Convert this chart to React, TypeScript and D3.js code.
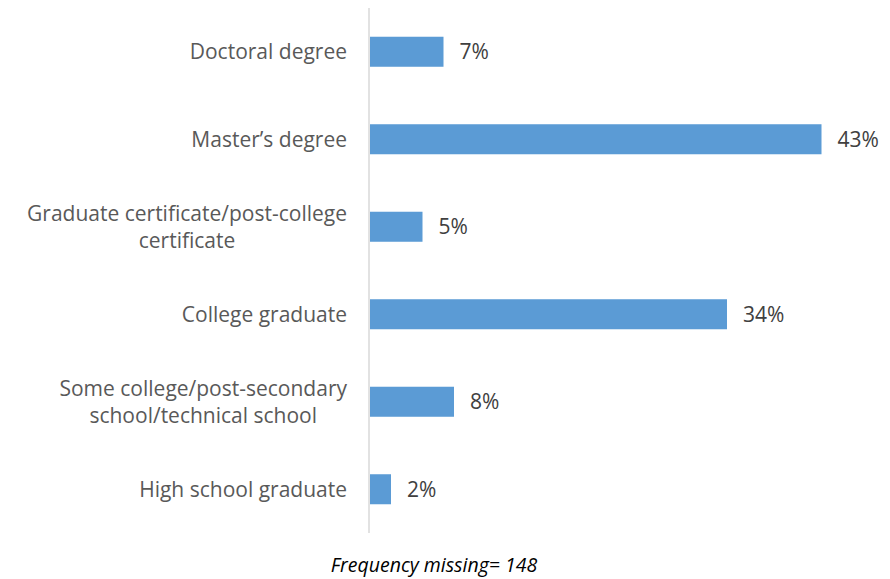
import React from "react";
import * as d3 from "d3";

const categories: string[][] = [
  ["Doctoral degree"],
  ["Master\u2019s degree"],
  ["Graduate certificate/post-college", "certificate"],
  ["College graduate"],
  ["Some college/post-secondary", "school/technical school"],
  ["High school graduate"],
];
const values: number[] = [7, 43, 5, 34, 8, 2];
const valueLabels: string[] = ["7%", "43%", "5%", "34%", "8%", "2%"];
const footnote = "Frequency missing= 148";

const W = 890;
const H = 579;
const FONT = "'Open Sans', sans-serif";

export default function App() {
  const x0 = 370;
  const top = 8;
  const bottom = 533;
  const x = d3.scaleLinear().domain([0, 50]).range([x0, x0 + 525]);
  const y = d3
    .scaleBand<number>()
    .domain(d3.range(values.length))
    .range([top, bottom])
    .paddingInner(0.657)
    .paddingOuter(0.3285);
  const labelRight = 347;
  const lineH = 27;

  return (
    <svg
      width={W}
      height={H}
      style={{ position: "absolute", left: 0, top: 0, background: "#fff" }}
      fontFamily={FONT}
    >
      <rect width={W} height={H} fill="#fff" />
      {values.map((v, i) => {
        const yc = (y(i) as number) + y.bandwidth() / 2;
        return (
          <g key={i}>
            <rect
              x={x(0)}
              y={y(i)}
              width={x(v) - x(0)}
              height={y.bandwidth()}
              fill="#5b9bd5"
            />
            <text
              x={x(v) + 16}
              y={yc}
              dy="0.35em"
              fontSize={21}
              fill="#404040"
            >
              {valueLabels[i]}
            </text>
          </g>
        );
      })}
      <line x1={369} x2={369} y1={top} y2={bottom} stroke="#d9d9d9" strokeWidth={1.5} />
      {categories.map((lines, i) => {
        const yc = (y(i) as number) + y.bandwidth() / 2;
        return (
          <CatLabel key={i} lines={lines} right={labelRight} yc={yc} lineH={lineH} />
        );
      })}
      <text
        x={434}
        y={565}
        dy="0.35em"
        textAnchor="middle"
        fontSize={19.5}
        fontStyle="italic"
        fill="#000"
      >
        {footnote}
      </text>
    </svg>
  );
}

function CatLabel({
  lines,
  right,
  yc,
  lineH,
}: {
  lines: string[];
  right: number;
  yc: number;
  lineH: number;
}) {
  const ref = React.useRef<SVGGElement>(null);
  const [w, setW] = React.useState(0);
  React.useLayoutEffect(() => {
    if (ref.current) {
      const texts = ref.current.querySelectorAll("text");
      let m = 0;
      texts.forEach((t) => {
        m = Math.max(m, (t as SVGTextElement).getComputedTextLength());
      });
      setW(m);
    }
  }, [lines]);
  const cx = right - w / 2;
  const y0 = yc - ((lines.length - 1) * lineH) / 2;
  return (
    <g ref={ref}>
      {lines.map((l, j) => (
        <text
          key={j}
          x={cx}
          y={y0 + j * lineH}
          dy="0.35em"
          textAnchor="middle"
          fontSize={21}
          fill="#595959"
        >
          {l}
        </text>
      ))}
    </g>
  );
}
